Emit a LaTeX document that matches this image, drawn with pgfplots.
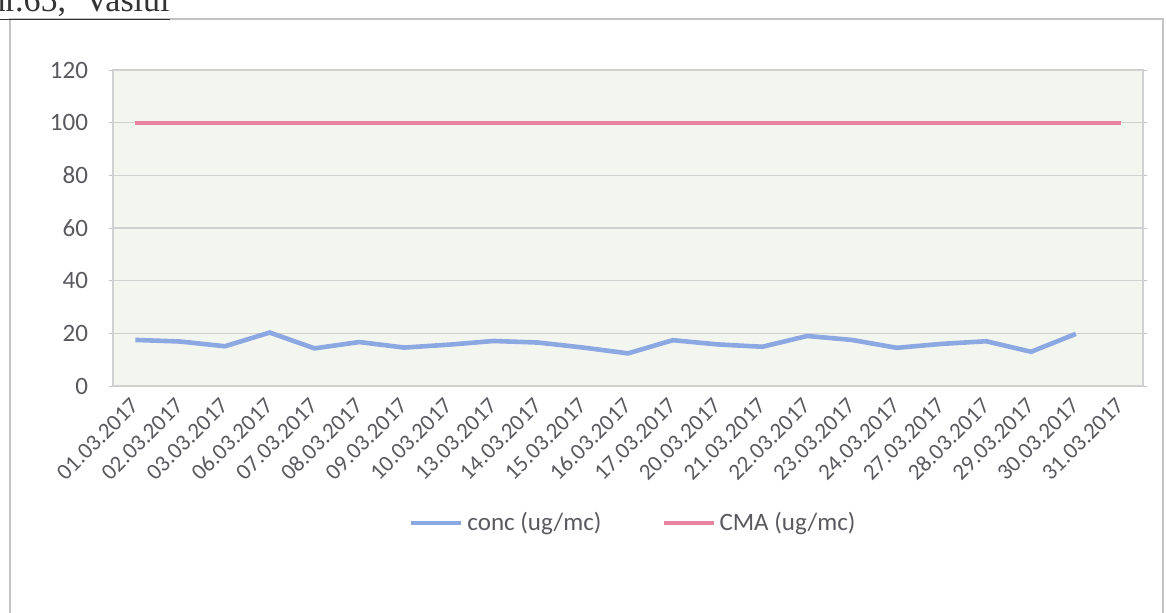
\documentclass[border=0pt]{standalone}
\usepackage{pgfplots}
\pgfplotsset{compat=1.18}
\usepackage{fontspec}
\setmainfont{Carlito}
\newfontfamily\serifa{Liberation Serif}
\definecolor{txt}{RGB}{89,89,95}
\definecolor{concc}{RGB}{140,168,226}
\definecolor{cmac}{RGB}{232,132,160}
\definecolor{plotbg}{RGB}{243,245,239}
\definecolor{gridc}{RGB}{208,208,208}
\definecolor{framec}{RGB}{195,195,195}
\begin{document}
\begin{tikzpicture}
\useasboundingbox (0,0) rectangle (583pt,-306pt);
\draw[framec, line width=0.8pt] (5pt,-9.5pt) rectangle (581.5pt,-330pt);
\node[anchor=base east, font=\serifa\fontsize{17}{19}\selectfont, text=black!80, inner sep=0pt] at (85pt,-5.8pt) {\underline{nr.65,\hspace{5pt} Vaslui}};
\begin{axis}[
  at={(56.5pt,-193pt)}, anchor=south west,
  width=515pt, height=158pt, scale only axis,
  xmin=-0.5, xmax=22.5, ymin=0, ymax=120,
  ytick={0,20,...,120},
  xtick={0,...,22},
  xticklabels={01.03.2017,02.03.2017,03.03.2017,06.03.2017,07.03.2017,08.03.2017,09.03.2017,10.03.2017,13.03.2017,14.03.2017,15.03.2017,16.03.2017,17.03.2017,20.03.2017,21.03.2017,22.03.2017,23.03.2017,24.03.2017,27.03.2017,28.03.2017,29.03.2017,30.03.2017,31.03.2017},
  major x tick style={draw=none},
  extra x ticks={-0.5,0.5,...,22.5},
  extra x tick labels={},
  extra x tick style={major x tick style={framec}, major tick length=3pt},
  axis background/.style={fill=plotbg},
  ymajorgrids, grid style={gridc, line width=0.6pt},
  axis line style={gridc, line width=0.6pt},
  tick align=outside,
  major y tick style={framec},
  major tick length=2pt,
  tick label style={font=\fontsize{12.5}{14}\selectfont, text=txt},
  xticklabel style={rotate=45, anchor=east, font=\fontsize{11.5}{13}\selectfont, yshift=-4pt, xshift=-1pt},
  yticklabel style={xshift=-7pt},
  /pgf/number format/assume math mode=true,
  legend style={at={(0.506,-0.434)}, anchor=center, draw=none, fill=none,
    legend columns=2, font=\fontsize{12.5}{14}\selectfont, text=txt},
  legend cell align=left,
  /tikz/every even column/.append style={column sep=28pt},
  legend image code/.code={\draw[#1] (0pt,0pt) -- (25pt,0pt);},
]
\addplot[concc, line width=2.3pt] coordinates {
(0,17.5) (1,16.9) (2,15.1) (3,20.3) (4,14.3) (5,16.7) (6,14.6) (7,15.7)
(8,17.1) (9,16.5) (10,14.6) (11,12.4) (12,17.4) (13,15.8) (14,14.9) (15,19.0)
(16,17.5) (17,14.5) (18,16.0) (19,17.0) (20,13.0) (21,19.8)
};
\addlegendentry{conc (ug/mc)}
\addplot[cmac, line width=2pt] coordinates {
(0,100) (1,100) (2,100) (3,100) (4,100) (5,100) (6,100) (7,100) (8,100) (9,100) (10,100) (11,100)
(12,100) (13,100) (14,100) (15,100) (16,100) (17,100) (18,100) (19,100) (20,100) (21,100) (22,100)
};
\addlegendentry{CMA (ug/mc)}
\end{axis}
\end{tikzpicture}
\end{document}
